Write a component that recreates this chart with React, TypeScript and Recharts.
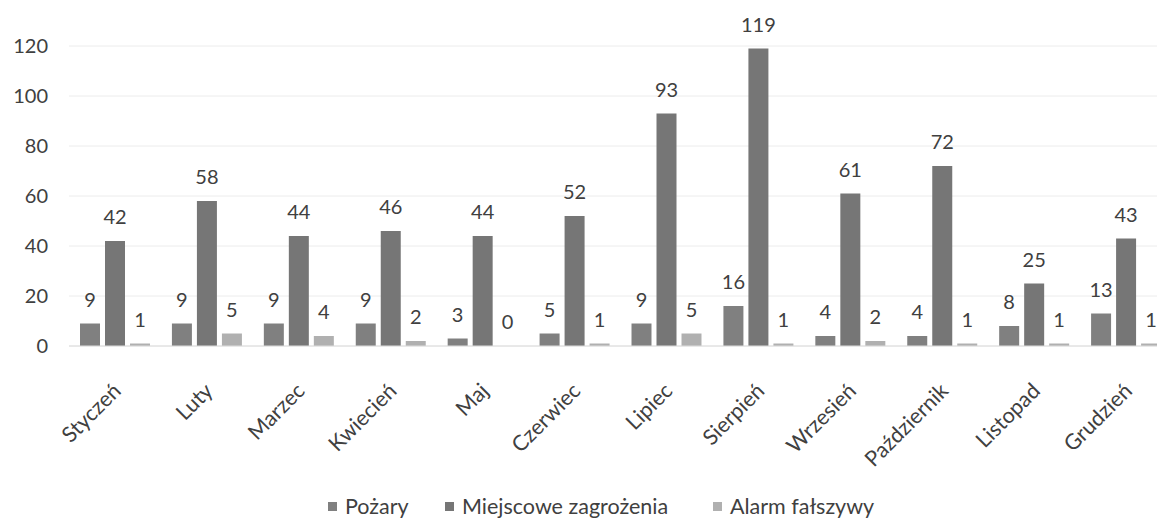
import React from "react";
import { BarChart, Bar, XAxis, YAxis, CartesianGrid, LabelList, Legend } from "recharts";

const months = ["Styczeń", "Luty", "Marzec", "Kwiecień", "Maj", "Czerwiec", "Lipiec", "Sierpień", "Wrzesień", "Październik", "Listopad", "Grudzień"];
const pozary = [9, 9, 9, 9, 3, 5, 9, 16, 4, 4, 8, 13];
const miejscowe = [42, 58, 44, 46, 44, 52, 93, 119, 61, 72, 25, 43];
const alarm = [1, 5, 4, 2, 0, 1, 5, 1, 2, 1, 1, 1];
const yTicks = [0, 20, 40, 60, 80, 100, 120];

const seriesNames = ["Pożary", "Miejscowe zagrożenia", "Alarm fałszywy"];
const colors = ["#808080", "#767676", "#b0b0b0"];
const legendX = [328, 445, 713];

const data = months.map((m, i) => ({ month: m, a: pozary[i], b: miejscowe[i], c: alarm[i] }));

const FONT = "Lato, 'Noto Sans', sans-serif";
const TEXT = "#404040";

const XTick = (props: any) => {
  const { x, y, payload } = props;
  return (
    <g transform={`translate(${x + 2},${y + 33}) rotate(-45)`}>
      <text textAnchor="end" dy="0.35em" fill={TEXT} fontSize={21.5} fontFamily={FONT}>
        {payload.value}
      </text>
    </g>
  );
};

const ValueLabel = (props: any) => {
  const { x, y, width, height, value } = props;
  const top = Math.min(Number(y), Number(y) + Number(height || 0));
  return (
    <text x={Number(x) + Number(width) / 2} y={top - 17} textAnchor="middle" fill={TEXT} fontSize={20} fontFamily={FONT}>
      {value}
    </text>
  );
};

const LegendContent = () => (
  <div style={{ position: "relative", height: 40, fontFamily: FONT, fontSize: 21.5, color: TEXT }}>
    {seriesNames.map((n, i) => (
      <div
        key={n}
        style={{ position: "absolute", left: legendX[i], top: 16, height: 24, display: "flex", alignItems: "center", whiteSpace: "nowrap" }}
      >
        <span style={{ width: 9, height: 9, background: colors[i], display: "inline-block", marginRight: 8 }} />
        <span>{n}</span>
      </div>
    ))}
  </div>
);

export default function App() {
  return (
    <div style={{ position: "absolute", left: 0, top: 0, width: 1157, height: 518, overflow: "hidden", background: "#fff" }}>
      <BarChart
        width={1172}
        height={518}
        data={data}
        margin={{ top: 46, right: 0, left: 0, bottom: 0 }}
        barSize={20}
        barGap={5}
      >
        <CartesianGrid vertical={false} stroke="#ececec" />
        <XAxis
          dataKey="month"
          height={132}
          interval={0}
          tickLine={false}
          axisLine={{ stroke: "#dcdcdc" }}
          tick={<XTick />}
        />
        <YAxis
          width={69}
          domain={[0, 120]}
          ticks={yTicks}
          axisLine={false}
          tickLine={false}
          tickMargin={15}
          tick={{ fill: TEXT, fontSize: 20, fontFamily: FONT }}
        />
        <Legend verticalAlign="bottom" content={<LegendContent />} wrapperStyle={{ left: 0, width: 1172, height: 40 }} />
        <Bar dataKey="a" name={seriesNames[0]} fill={colors[0]} isAnimationActive={false}>
          <LabelList dataKey="a" content={<ValueLabel />} />
        </Bar>
        <Bar dataKey="b" name={seriesNames[1]} fill={colors[1]} isAnimationActive={false}>
          <LabelList dataKey="b" content={<ValueLabel />} />
        </Bar>
        <Bar dataKey="c" name={seriesNames[2]} fill={colors[2]} minPointSize={0.01} isAnimationActive={false}>
          <LabelList dataKey="c" content={<ValueLabel />} />
        </Bar>
      </BarChart>
    </div>
  );
}
